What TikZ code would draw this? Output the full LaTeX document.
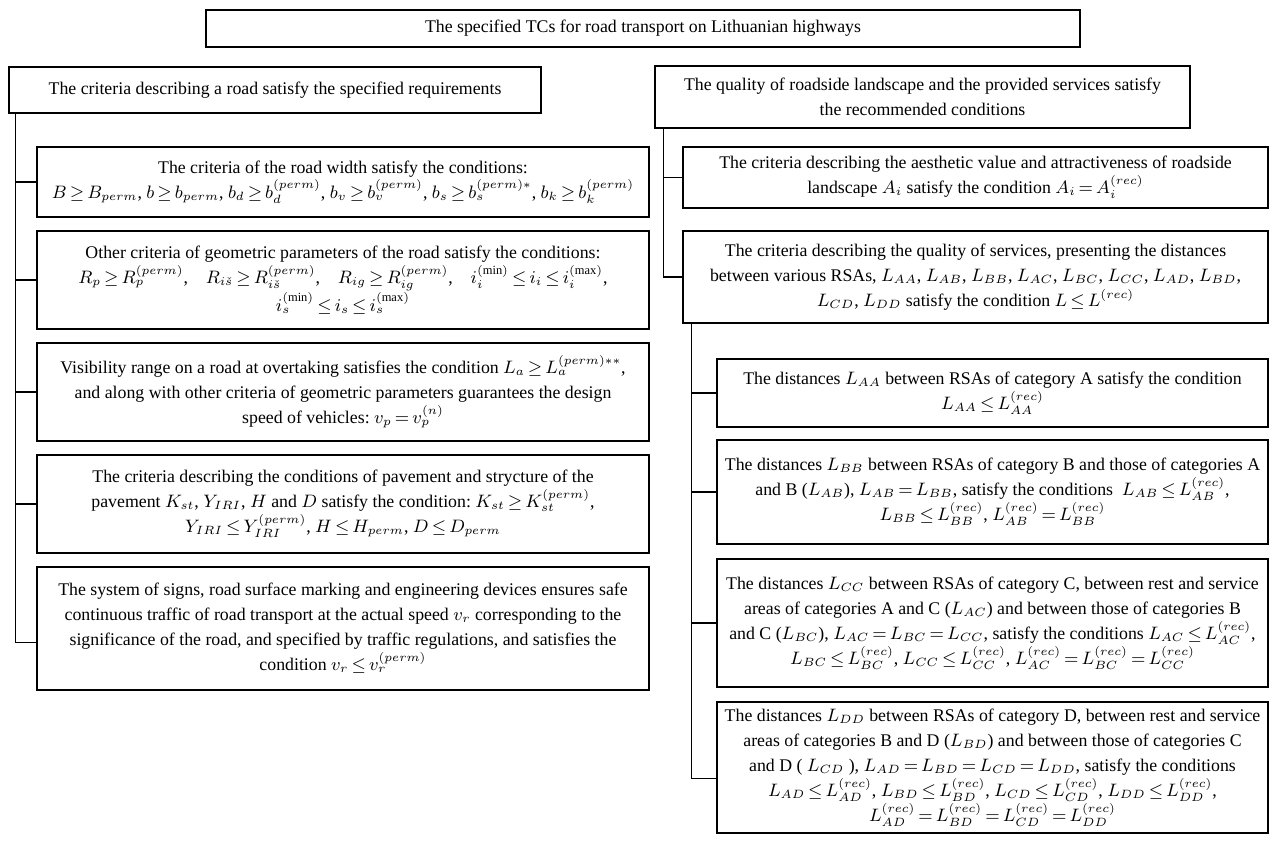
\documentclass[tikz,border=0pt]{standalone}
\usepackage{amsmath,amssymb}
\usepackage{fontspec}
\setmainfont{Liberation Serif}
\usepackage{tikz}
\usetikzlibrary{positioning,calc}
\thickmuskip=3mu plus 2mu
\medmuskip=2mu plus 1mu
\tikzset{tcbox/.style={draw,line width=0.6pt,align=center,inner sep=1pt},
  tcline/.style={line width=0.6pt}}
\newcommand{\prm}{\left(perm\right)}
\newcommand{\rc}{\left(rec\right)}

\begin{document}
\begin{tikzpicture}[x=0.5pt,y=-0.5pt,font=\fontsize{8.9}{12.5}\selectfont]
  \useasboundingbox (0,0) rectangle (1284,850);
  % title
  \node[tcbox,minimum width=437pt,minimum height=18.5pt] (tcs) at (643,28.5)
    {The specified TCs for road transport on Lithuanian highways};
  % left branch: road criteria
  \node[tcbox,minimum width=266pt,minimum height=23pt] (road) at (275,90)
    {The criteria describing a road satisfy the specified requirements};
  \node[tcbox,minimum width=306pt,minimum height=35pt] (width) at (343,182)
    {The criteria of the road width satisfy the conditions:\\
     $B\ge B_{perm}$,\ $b\ge b_{perm}$,\ $b_d\ge b_d^{\prm}$,\ $b_v\ge b_v^{\prm}$,\ $b_s\ge b_s^{\prm *}$,\ $b_k\ge b_k^{\prm}$};
  \node[tcbox,minimum width=306pt,minimum height=49pt] (geom) at (343,280)
    {Other criteria of geometric parameters of the road satisfy the conditions:\\
     $R_p\ge R_p^{\prm}$,\quad $R_{i\check{s}}\ge R_{i\check{s}}^{\prm}$,\quad $R_{ig}\ge R_{ig}^{\prm}$,\quad $i_i^{(\min)}\le i_i\le i_i^{(\max)}$,\\
     $i_s^{(\min)}\le i_s\le i_s^{(\max)}$};
  \node[tcbox,minimum width=306pt,minimum height=49pt] (vis) at (343,392)
    {Visibility range on a road at overtaking satisfies the condition\ $L_a\ge L_a^{\prm **}$,\\
     and along with other criteria of geometric parameters guarantees the design\\
     speed of vehicles:\ $v_p=v_p^{(n)}$};
  \node[tcbox,minimum width=306pt,minimum height=49pt] (pave) at (343,504)
    {The criteria describing the conditions of pavement and strycture of the\\
     pavement\ $K_{st}$, $Y_{IRI}$,\ $H$ and $D$ satisfy the condition:\ $K_{st}\ge K_{st}^{\prm}$,\\
     $Y_{IRI}\le Y_{IRI}^{\prm}$,\ $H\le H_{perm}$,\ $D\le D_{perm}$};
  \node[tcbox,minimum width=306pt,minimum height=61.5pt] (signs) at (343,628.5)
    {The system of signs, road surface marking and engineering devices ensures safe\\
     continuous traffic of road transport at the actual speed $v_r$ corresponding to the\\
     significance of the road, and specified by traffic regulations, and satisfies the\\
     condition\ $v_r\le v_r^{\prm}$};
  % right branch: landscape and services
  \node[tcbox,minimum width=267.5pt,minimum height=31pt] (land) at (922.5,97)
    {The quality of roadside landscape and the provided services satisfy\\
     the recommended conditions};
  \node[tcbox,minimum width=292.5pt,minimum height=30.5pt] (aest) at (975.5,177.5)
    {The criteria describing the aesthetic value and attractiveness of roadside\\
     landscape\ $A_i$ satisfy the condition\ $A_i=A_i^{\rc}$};
  \node[tcbox,minimum width=292.5pt,minimum height=46pt] (serv) at (975.5,277)
    {The criteria describing the quality of services, presenting the distances\\
     between various RSAs,\ $L_{AA}$, $L_{AB}$, $L_{BB}$, $L_{AC}$, $L_{BC}$, $L_{CC}$, $L_{AD}$, $L_{BD}$,\\
     $L_{CD}$, $L_{DD}$ satisfy the condition $L\le L^{\rc}$};
  \node[tcbox,minimum width=275.5pt,minimum height=34pt] (dAA) at (992.5,393)
    {The distances\ $L_{AA}$\ between RSAs of category A satisfy the condition\\
     $L_{AA}\le L_{AA}^{\rc}$};
  \node[tcbox,minimum width=275.5pt,minimum height=52pt] (dBB) at (992.5,492)
    {The distances\ $L_{BB}$ between RSAs of category B and those of categories A\\
     and B\ ($L_{AB}$),\ $L_{AB}=L_{BB}$, satisfy the conditions\ \ $L_{AB}\le L_{AB}^{\rc}$,\\
     $L_{BB}\le L_{BB}^{\rc}$,\ $L_{AB}^{\rc}=L_{BB}^{\rc}$};
  \node[tcbox,minimum width=275.5pt,minimum height=64pt] (dCC) at (992.5,623)
    {The distances $L_{CC}$ between RSAs of category C, between rest and service\\
     areas of categories A and C ($L_{AC}$) and between those of categories B\\
     and C ($L_{BC}$), $L_{AC}=L_{BC}=L_{CC}$, satisfy the conditions $L_{AC}\le L_{AC}^{\rc}$,\\
     $L_{BC}\le L_{BC}^{\rc}$,\ $L_{CC}\le L_{CC}^{\rc}$,\ $L_{AC}^{\rc}=L_{BC}^{\rc}=L_{CC}^{\rc}$};
  \node[tcbox,minimum width=275.5pt,minimum height=65.5pt] (dDD) at (992.5,767.5)
    {The distances $L_{DD}$ between RSAs of category D, between rest and service\\
     areas of categories B and D ($L_{BD}$)\ and between those of categories C\\
     and D ( $L_{CD}$ ), $L_{AD}=L_{BD}=L_{CD}=L_{DD}$, satisfy the conditions\\
     $L_{AD}\le L_{AD}^{\rc}$,\ $L_{BD}\le L_{BD}^{\rc}$,\ $L_{CD}\le L_{CD}^{\rc}$,\ $L_{DD}\le L_{DD}^{\rc}$,\\
     $L_{AD}^{\rc}=L_{BD}^{\rc}=L_{CD}^{\rc}=L_{DD}^{\rc}$};
  % connectors
  \foreach \b in {width,geom,vis,pave} \draw[tcline] ([xshift=3.5pt]road.south west) |- (\b.west);
  \draw[tcline] ([xshift=3.5pt]road.south west) |- ([yshift=-7pt]signs.west);
  \foreach \b in {aest,serv} \draw[tcline] ([xshift=4.5pt]land.south west) |- (\b.west);
  \foreach \b in {dAA,dBB,dCC} \draw[tcline] ([xshift=4.5pt]serv.south west) |- (\b.west);
  \draw[tcline] ([xshift=4.5pt]serv.south west) |- ([yshift=-5.5pt]dDD.west);
\end{tikzpicture}
\end{document}
